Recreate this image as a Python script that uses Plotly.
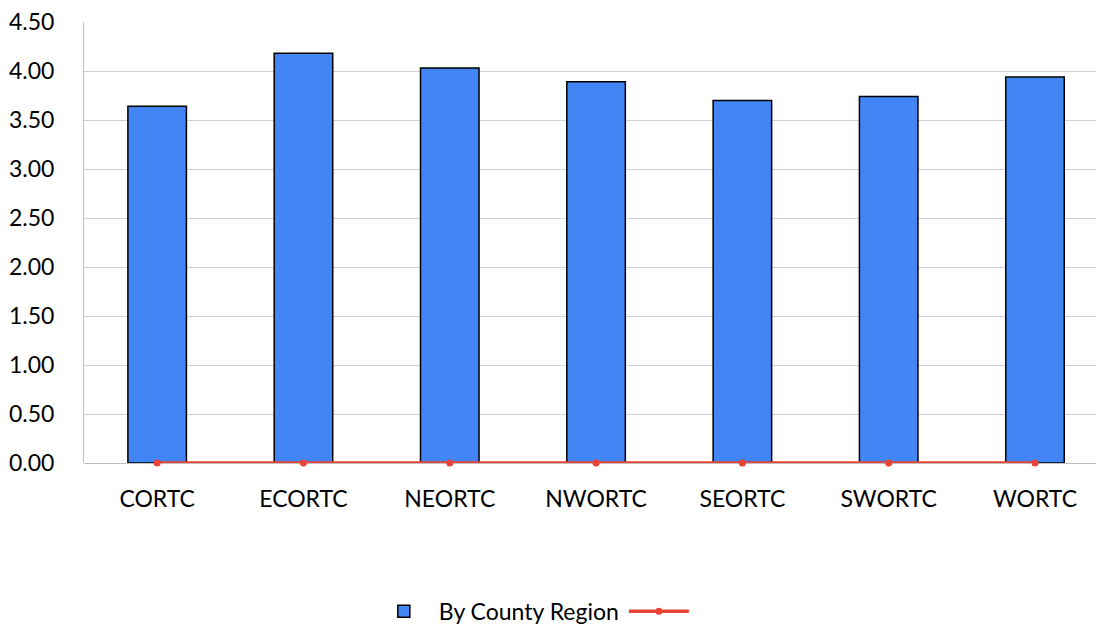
import plotly.graph_objects as go

categories = ["CORTC", "ECORTC", "NEORTC", "NWORTC", "SEORTC", "SWORTC", "WORTC"]
region_values = [3.64, 4.18, 4.03, 3.89, 3.70, 3.74, 3.94]
line_values = [0, 0, 0, 0, 0, 0, 0]
y_ticks = [0, 0.5, 1.0, 1.5, 2.0, 2.5, 3.0, 3.5, 4.0, 4.5]

fig = go.Figure()
fig.add_trace(go.Bar(
    x=categories, y=region_values, name="By County Region",
    width=0.4,
    marker=dict(color="#4285F4", line=dict(color="#000000", width=1.5)),
))
fig.add_trace(go.Scatter(
    x=categories, y=line_values, name="", mode="lines+markers",
    line=dict(color="#EA4335", width=3.5),
    marker=dict(color="#EA4335", size=7),
    cliponaxis=False,
))

fig.update_layout(
    width=1096, height=624,
    margin=dict(l=84, r=0, t=22, b=161, autoexpand=False),
    paper_bgcolor="white", plot_bgcolor="white",
    font=dict(family="Lato", size=23, color="#000000"),
    showlegend=True,
    legend=dict(orientation="h", x=0.445, xanchor="center", y=-0.336, yanchor="middle",
                font=dict(size=23), itemwidth=60),
    xaxis=dict(
        type="category", range=[-0.5, 6.417], automargin=False,
        showgrid=False, showline=False, ticks="",
        ticklabelstandoff=20,
    ),
    yaxis=dict(
        range=[0, 4.5], tickvals=y_ticks, tickformat=".2f", automargin=False,
        showgrid=True, gridcolor="#d0d0d0", gridwidth=1,
        showline=True, linecolor="#bfbfbf", linewidth=1,
        zeroline=True, zerolinecolor="#bfbfbf", zerolinewidth=1,
        ticks="", ticklabelstandoff=24,
    ),
)

fig.write_html("out.html")
